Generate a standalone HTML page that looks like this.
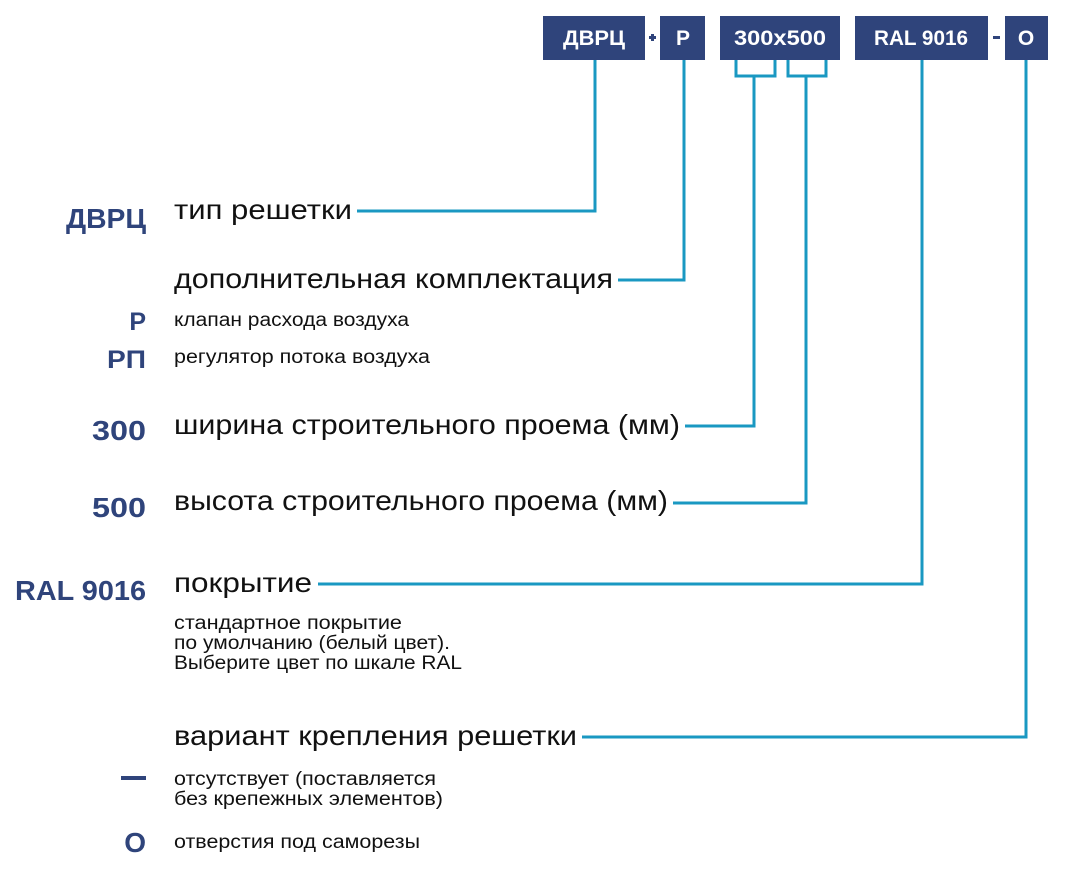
<!DOCTYPE html>
<html><head><meta charset="utf-8"><style>
html,body{margin:0;padding:0;background:#fff;}
svg{display:block;}
</style></head><body>
<svg width="1087" height="873" viewBox="0 0 1087 873" xmlns="http://www.w3.org/2000/svg" font-family="Liberation Sans, sans-serif">
<g fill="#2f447b">
<rect x="543" y="16" width="102" height="44"/>
<rect x="660" y="16" width="45" height="44"/>
<rect x="720" y="16" width="120" height="44"/>
<rect x="855" y="16" width="133" height="44"/>
<rect x="1005" y="16" width="43" height="44"/>
<rect x="649" y="36" width="7" height="3"/>
<rect x="651" y="34" width="3" height="7"/>
<rect x="993" y="36" width="7" height="3"/>
</g>
<g fill="#fff" font-weight="bold" font-size="21" text-anchor="middle">
<text x="594" y="45" textLength="62" lengthAdjust="spacingAndGlyphs">ДВРЦ</text>
<text x="683" y="45">P</text>
<text x="780" y="45" textLength="92" lengthAdjust="spacingAndGlyphs">300x500</text>
<text x="921" y="45" textLength="94" lengthAdjust="spacingAndGlyphs">RAL 9016</text>
<text x="1026" y="45">O</text>
</g>
<g fill="none" stroke="#1a98c2" stroke-width="3">
<polyline points="595,60 595,211 357,211"/>
<polyline points="684,60 684,280 618,280"/>
<polyline points="736,60 736,76 775,76 775,60"/>
<polyline points="788,60 788,76 826,76 826,60"/>
<polyline points="754,76 754,426 685,426"/>
<polyline points="806,76 806,503 673,503"/>
<polyline points="922,60 922,584 318,584"/>
<polyline points="1026,60 1026,737 582,737"/>
</g>
<g fill="#2f447b" font-weight="bold" text-anchor="end">
<text x="146" y="228" font-size="28" textLength="80" lengthAdjust="spacingAndGlyphs">ДВРЦ</text>
<text x="146" y="330" font-size="25">Р</text>
<text x="146" y="368" font-size="25" textLength="39" lengthAdjust="spacingAndGlyphs">РП</text>
<text x="146" y="440" font-size="28" textLength="54" lengthAdjust="spacingAndGlyphs">300</text>
<text x="146" y="517" font-size="28" textLength="54" lengthAdjust="spacingAndGlyphs">500</text>
<text x="146" y="600" font-size="28" textLength="131" lengthAdjust="spacingAndGlyphs">RAL 9016</text>
<text x="146" y="852" font-size="28">O</text>
</g>
<rect x="121" y="776" width="25" height="4" fill="#2f447b"/>
<g fill="#111" font-size="28">
<text x="174" y="219" textLength="178" lengthAdjust="spacingAndGlyphs">тип решетки</text>
<text x="174" y="288" textLength="439" lengthAdjust="spacingAndGlyphs">дополнительная комплектация</text>
<text x="174" y="434" textLength="506" lengthAdjust="spacingAndGlyphs">ширина строительного проема (мм)</text>
<text x="174" y="510" textLength="494" lengthAdjust="spacingAndGlyphs">высота строительного проема (мм)</text>
<text x="174" y="592" textLength="138" lengthAdjust="spacingAndGlyphs">покрытие</text>
<text x="174" y="745" textLength="403" lengthAdjust="spacingAndGlyphs">вариант крепления решетки</text>
</g>
<g fill="#111" font-size="19">
<text x="174" y="326" textLength="235" lengthAdjust="spacingAndGlyphs">клапан расхода воздуха</text>
<text x="174" y="363" textLength="256" lengthAdjust="spacingAndGlyphs">регулятор потока воздуха</text>
<text x="174" y="629" textLength="228" lengthAdjust="spacingAndGlyphs">стандартное покрытие</text>
<text x="174" y="649" textLength="276" lengthAdjust="spacingAndGlyphs">по умолчанию (белый цвет).</text>
<text x="174" y="669" textLength="288" lengthAdjust="spacingAndGlyphs">Выберите цвет по шкале RAL</text>
<text x="174" y="785" textLength="262" lengthAdjust="spacingAndGlyphs">отсутствует (поставляется</text>
<text x="174" y="805" textLength="269" lengthAdjust="spacingAndGlyphs">без крепежных элементов)</text>
<text x="174" y="848" textLength="246" lengthAdjust="spacingAndGlyphs">отверстия под саморезы</text>
</g>
</svg>
</body></html>
